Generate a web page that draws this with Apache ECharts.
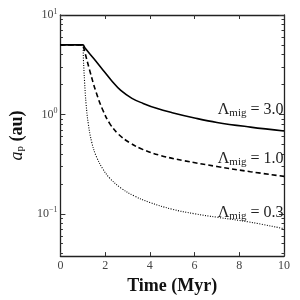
<!DOCTYPE html>
<html>
<head>
<meta charset="utf-8">
<script src="https://cdn.jsdelivr.net/npm/echarts@6/dist/echarts.min.js"></script>
<style>html,body{margin:0;padding:0;background:#fff}#c{width:300px;height:300px}</style>
</head>
<body>
<div id="c"></div>
<script>
// ---- data ----
var tSolid  = [0, 1.0, 1.1, 1.5, 1.9, 2.3, 2.7, 3.2, 3.7, 4.3, 5.0, 6.0, 7.0, 8.5, 10];
var aSolid  = [5.0, 5.0, 4.65, 3.63, 2.8, 2.17, 1.74, 1.45, 1.29, 1.15, 1.04, 0.92, 0.83, 0.745, 0.68];
var tDashed = [0, 1.0, 1.05, 1.1, 1.3, 1.6, 1.9, 2.2, 2.6, 3.1, 3.7, 4.5, 5.5, 7.0, 8.5, 10];
var aDashed = [5.0, 5.0, 4.6, 4.17, 2.82, 1.66, 1.10, 0.813, 0.631, 0.519, 0.442, 0.385, 0.343, 0.299, 0.265, 0.238];
var tDotted = [0, 1.0, 1.03, 1.08, 1.15, 1.25, 1.4, 1.6, 1.9, 2.2, 2.7, 3.3, 4.0, 5.0, 6.0, 7.0, 8.5, 10];
var aDotted = [5.0, 5.0, 3.55, 2.14, 1.26, 0.794, 0.525, 0.38, 0.282, 0.229, 0.182, 0.151, 0.130, 0.111, 0.100, 0.0923, 0.0822, 0.0708];
var lambdaLabels = ['3.0', '1.0', '0.3'];
var labelAnchorY = [1.12, 0.358, 0.102];
var yMajor = [0.1, 1, 10];
var yMajorExp = ['−1', '0', '1'];
var yMinor = [0.04,0.05,0.06,0.07,0.08,0.09,0.2,0.3,0.4,0.5,0.6,0.7,0.8,0.9,2,3,4,5,6,7,8,9];

var SERIF = '"Liberation Serif", "DejaVu Serif", serif';
function pairs(t, a) { return t.map(function (v, i) { return [v, a[i]]; }); }

var yBase = { type: 'log', logBase: 10, min: 0.0375, max: 10, splitLine: { show: false } };
function yAxisDef(pos, ticks, len, showLabel, showLine) {
  return Object.assign({}, yBase, {
    position: pos,
    axisLine: { show: showLine, lineStyle: { color: '#222', width: 1.3 } },
    axisTick: { show: true, inside: true, length: len, customValues: ticks, lineStyle: { color: '#333', width: 1 } },
    axisLabel: showLabel ? {
      show: true, margin: 3, customValues: yMajor,
      formatter: function (v) { var i = 0; for (var k = 0; k < yMajor.length; k++) if (Math.abs(yMajor[k] - v) < 1e-6 * yMajor[k]) i = k; return '{b|10}{s|' + yMajorExp[i] + '}'; },
      rich: { b: { fontFamily: SERIF, fontSize: 12, color: '#444' }, s: { fontFamily: SERIF, fontSize: 8, color: '#444', padding: [0, 0, 7, 0] } }
    } : { show: false },
    name: showLabel ? '{i|a}{p|p}{b| (au)}' : '',
    nameLocation: 'middle', nameGap: 25, nameRotate: 90,
    nameTextStyle: { rich: {
      i: { fontFamily: SERIF, fontStyle: 'italic', fontSize: 18, color: '#111' },
      p: { fontFamily: SERIF, fontSize: 11, color: '#111', padding: [6, 0, 0, 0] },
      b: { fontFamily: SERIF, fontWeight: 'bold', fontSize: 18, color: '#111' } } }
  });
}
function xAxisDef(pos, showLabel) {
  return {
    type: 'value', min: 0, max: 10, interval: 2, position: pos,
    splitLine: { show: false },
    axisLine: { show: true, onZero: false, lineStyle: { color: '#222', width: 1.3 } },
    axisTick: { show: true, inside: true, length: 4, lineStyle: { color: '#333', width: 1 } },
    axisLabel: showLabel ? { show: true, margin: 4, fontFamily: SERIF, fontSize: 12, color: '#444' } : { show: false },
    name: showLabel ? 'Time (Myr)' : '',
    nameLocation: 'middle', nameGap: 13,
    nameTextStyle: { fontFamily: SERIF, fontWeight: 'bold', fontSize: 18, color: '#111', verticalAlign: 'top' }
  };
}
function labelMark(i) {
  return {
    symbol: 'circle', symbolSize: 1, silent: true, animation: false,
    itemStyle: { color: 'rgba(0,0,0,0)' },
    label: {
      show: true, position: 'left', distance: 0,
      formatter: '{l|Λ}{s|mig}{l| = ' + lambdaLabels[i] + '}',
      rich: {
        l: { fontFamily: SERIF, fontSize: 16, color: '#222' },
        s: { fontFamily: SERIF, fontSize: 11, color: '#222', padding: [7, 0, 0, 0] }
      }
    },
    data: [{ coord: [10, labelAnchorY[i]] }]
  };
}
var chart = echarts.init(document.getElementById('c'), null, { renderer: 'canvas' });
chart.setOption({
  animation: false,
  backgroundColor: '#fff',
  grid: { left: 58, right: 16, top: 15, bottom: 41 },
  xAxis: [xAxisDef('bottom', true), xAxisDef('top', false)],
  yAxis: [
    yAxisDef('left', yMajor, 5, true, true),
    yAxisDef('left', yMinor, 2.5, false, false),
    yAxisDef('right', yMajor, 5, false, true),
    yAxisDef('right', yMinor, 2.5, false, false)
  ],
  series: [
    { type: 'line', data: pairs(tSolid, aSolid), showSymbol: false, smooth: 0.4,
      lineStyle: { color: '#000', width: 1.6, type: 'solid' }, markPoint: labelMark(0) },
    { type: 'line', data: pairs(tDashed, aDashed), showSymbol: false, smooth: 0.4,
      lineStyle: { color: '#000', width: 1.6, type: [5, 3] }, markPoint: labelMark(1) },
    { type: 'line', data: pairs(tDotted, aDotted), showSymbol: false, smooth: 0.4,
      lineStyle: { color: '#000', width: 1.1, type: [1, 1.5] }, markPoint: labelMark(2) }
  ]
});
</script>
</body>
</html>
